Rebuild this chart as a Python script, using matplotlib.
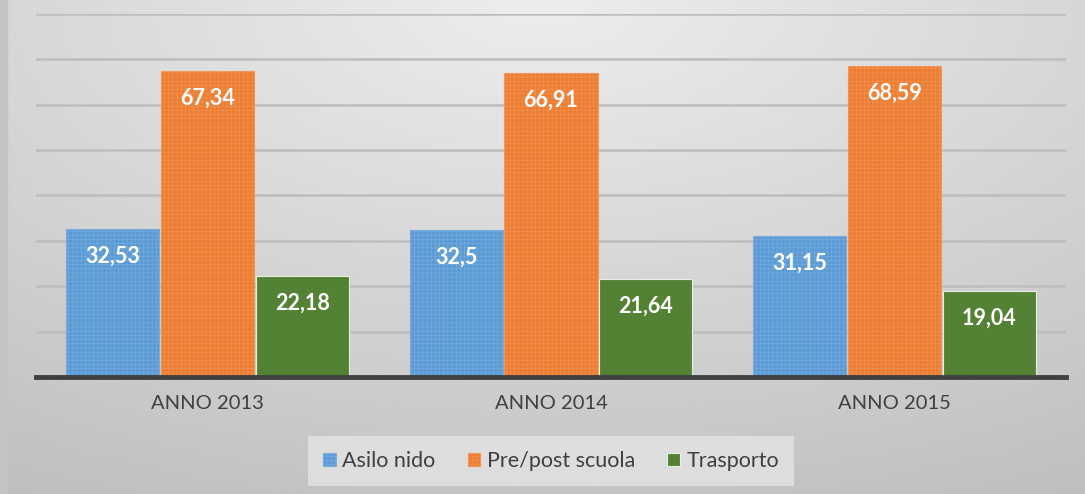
import numpy as np
import matplotlib
matplotlib.use("Agg")
import matplotlib.pyplot as plt

# Values
years = ["ANNO 2013", "ANNO 2014", "ANNO 2015"]
series = ["Asilo nido", "Pre/post scuola", "Trasporto"]
asilo = [32.53, 32.5, 31.15]
prepost = [67.34, 66.91, 68.59]
trasporto = [22.18, 21.64, 19.04]
labels_asilo = ["32,53", "32,5", "31,15"]
labels_prepost = ["67,34", "66,91", "68,59"]
labels_trasporto = ["22,18", "21,64", "19,04"]

colors = ["#5B9BD5", "#ED7D31", "#548235"]
hatch_cols = ["#78ADDD", "#F29558", "#E8EEE4"]
hatches = ["++++", "++++", None]

plt.rcParams["font.family"] = ["Lato", "DejaVu Sans"]
plt.rcParams["hatch.linewidth"] = 0.4

fig = plt.figure(figsize=(10.85, 4.94), dpi=100)

# soft grey gradient background
bg = fig.add_axes([0, 0, 1, 1], zorder=-10)
yy, xx = np.mgrid[0:1:200j, 0:1:400j]
r = np.sqrt(((xx - 0.5) * 1.1) ** 2 + (yy * 1.0) ** 2)
bg.imshow(0.93 - 0.16 * r, cmap="gray", vmin=0, vmax=1, aspect="auto",
          extent=[0, 1, 1, 0], interpolation="bilinear")
bg.axvspan(0, 0.006, color="#C4C4C4")
bg.set_xlim(0, 1)
bg.set_ylim(1, 0)
bg.axis("off")

ax = fig.add_axes([36 / 1085, 1 - 377 / 494, 1030 / 1085, 363 / 494])
ax.patch.set_alpha(0)

x = np.arange(len(years))
w = 0.271
data = [asilo, prepost, trasporto]
labs = [labels_asilo, labels_prepost, labels_trasporto]
for i, (vals, col, h, lb) in enumerate(zip(data, colors, hatches, labs)):
    pos = x + (i - 1) * (w + 0.005)
    bars = ax.bar(pos, vals, w, color=col, label=series[i], zorder=3,
                  edgecolor=hatch_cols[i], linewidth=0.8, hatch=h)
    for b, t in zip(bars, lb):
        ax.text(b.get_x() + b.get_width() / 2, b.get_height() - 6.0, t,
                ha="center", va="center", color="white", fontsize=15.5,
                fontweight="bold", zorder=4)

ax.set_xlim(-0.5, 2.5)
ax.set_ylim(0, 80)
ax.set_yticks(np.arange(10, 81, 10))
ax.yaxis.grid(True, color="#BDBDBD", lw=1.8, zorder=0)
ax.tick_params(axis="y", length=0, labelleft=False)
ax.tick_params(axis="x", length=0, pad=13, labelsize=14.5, labelcolor="#404040")
ax.set_xticks(x)
ax.set_xticklabels(years)
for s in ["top", "right", "left"]:
    ax.spines[s].set_visible(False)
ax.spines["bottom"].set_color("#404040")
ax.spines["bottom"].set_linewidth(3.5)
ax.spines["bottom"].set_zorder(5)

leg = ax.legend(loc="center", bbox_to_anchor=(0.5, (377 - 461) / 363),
                ncol=3, frameon=True, fontsize=15.5, handlelength=0.6,
                handleheight=0.6, handletextpad=0.3, columnspacing=1.5,
                borderpad=0.7, labelcolor="#404040")
leg.get_frame().set_facecolor("#E4E4E4")
leg.get_frame().set_edgecolor("none")
leg.get_frame().set_boxstyle("square", pad=0)

fig.savefig("out.png", dpi=100)
